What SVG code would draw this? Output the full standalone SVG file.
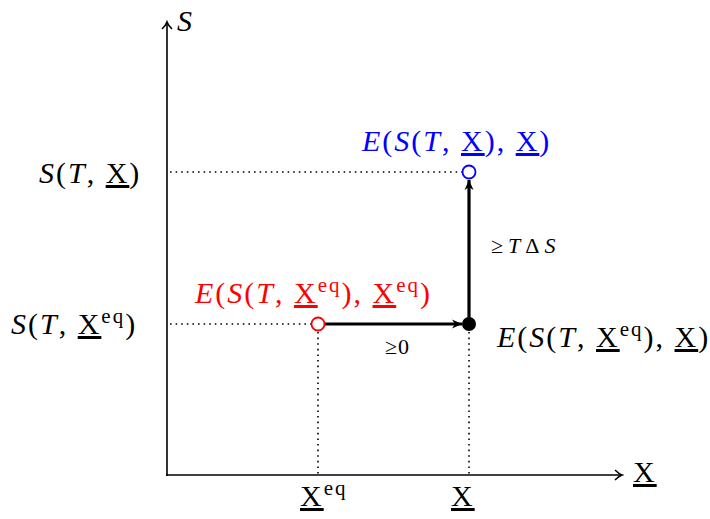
<svg xmlns="http://www.w3.org/2000/svg" width="710" height="519" viewBox="0 0 710 519">
<style>
.t{font-family:"Liberation Serif","DejaVu Serif",serif;font-size:30px;letter-spacing:2px;fill:#000}
.s{font-family:"Liberation Serif","DejaVu Serif",serif;font-size:22px;letter-spacing:1px;fill:#000}
.i{font-style:italic}
.u{text-decoration:underline}
.sup{font-size:21px;letter-spacing:2px}
.dot{stroke:#000;stroke-width:1.6;stroke-dasharray:1.6 4;fill:none}
.ax{stroke:#000;stroke-width:1.6;fill:none}
.thick{stroke:#000;stroke-width:3.2;fill:none}
</style>
<defs>
<marker id="ah" markerWidth="10" markerHeight="12" refX="8" refY="6" orient="auto" markerUnits="userSpaceOnUse">
<path d="M1,1 Q5,5 8,6 Q5,7 1,11" fill="none" stroke="#000" stroke-width="1.6"/>
</marker>
<marker id="ahb" markerWidth="12" markerHeight="12" refX="10" refY="6" orient="auto" markerUnits="userSpaceOnUse">
<path d="M0,1.5 L10,6 L0,10.5 L3,6 Z" fill="#000"/>
</marker>
</defs>
<g id="axes">
<line class="ax" x1="167" y1="476" x2="167" y2="22" marker-end="url(#ah)"/>
<line class="ax" x1="166" y1="475" x2="622" y2="475" marker-end="url(#ah)"/>
<text class="t i" x="177" y="31">S</text>
<text class="t" x="633" y="482"><tspan class="u">X</tspan></text>
</g>
<g id="connectors">
<line class="dot" x1="170" y1="172" x2="462" y2="172"/>
<line class="dot" x1="170" y1="324" x2="311" y2="324"/>
<line class="dot" x1="318" y1="332" x2="318" y2="474"/>
<line class="dot" x1="469" y1="332" x2="469" y2="474"/>
<line class="thick" x1="325" y1="324" x2="462" y2="324" marker-end="url(#ahb)"/>
<line class="thick" x1="469" y1="318" x2="469" y2="180" marker-end="url(#ahb)"/>
<text class="s" x="385" y="354">≥0</text>
<text class="s" x="491" y="253" style="letter-spacing:5px">≥<tspan class="i">T</tspan>Δ<tspan class="i">S</tspan></text>
</g>
<g id="node-blue">
<circle cx="469" cy="172" r="6.5" fill="#fff" stroke="#0000ff" stroke-width="1.8"/>
<text class="t" x="362" y="151" style="fill:#0000ff"><tspan class="i">E</tspan>(<tspan class="i">S</tspan>(<tspan class="i">T</tspan>, <tspan class="u">X</tspan>), <tspan class="u">X</tspan>)</text>
</g>
<g id="node-red">
<circle cx="318" cy="324" r="6.5" fill="#fff" stroke="#ff0000" stroke-width="1.8"/>
<text class="t" x="195" y="303" style="fill:#ff0000"><tspan class="i">E</tspan>(<tspan class="i">S</tspan>(<tspan class="i">T</tspan>, <tspan class="u">X</tspan><tspan class="sup" dy="-11">eq</tspan><tspan dy="11">), </tspan><tspan class="u">X</tspan><tspan class="sup" dy="-11">eq</tspan><tspan dy="11">)</tspan></text>
</g>
<g id="node-black">
<circle cx="469" cy="324" r="7" fill="#000"/>
<text class="t" x="497" y="347"><tspan class="i">E</tspan>(<tspan class="i">S</tspan>(<tspan class="i">T</tspan>, <tspan class="u">X</tspan><tspan class="sup" dy="-11">eq</tspan><tspan dy="11">), </tspan><tspan class="u">X</tspan>)</text>
</g>
<g id="labels">
<text class="t" x="39" y="183"><tspan class="i">S</tspan>(<tspan class="i">T</tspan>, <tspan class="u">X</tspan>)</text>
<text class="t" x="11" y="334"><tspan class="i">S</tspan>(<tspan class="i">T</tspan>, <tspan class="u">X</tspan><tspan class="sup" dy="-11">eq</tspan><tspan dy="11">)</tspan></text>
<text class="t" x="300" y="506"><tspan class="u">X</tspan><tspan class="sup" dy="-11">eq</tspan></text>
<text class="t" x="451" y="506"><tspan class="u">X</tspan></text>
</g>
</svg>
